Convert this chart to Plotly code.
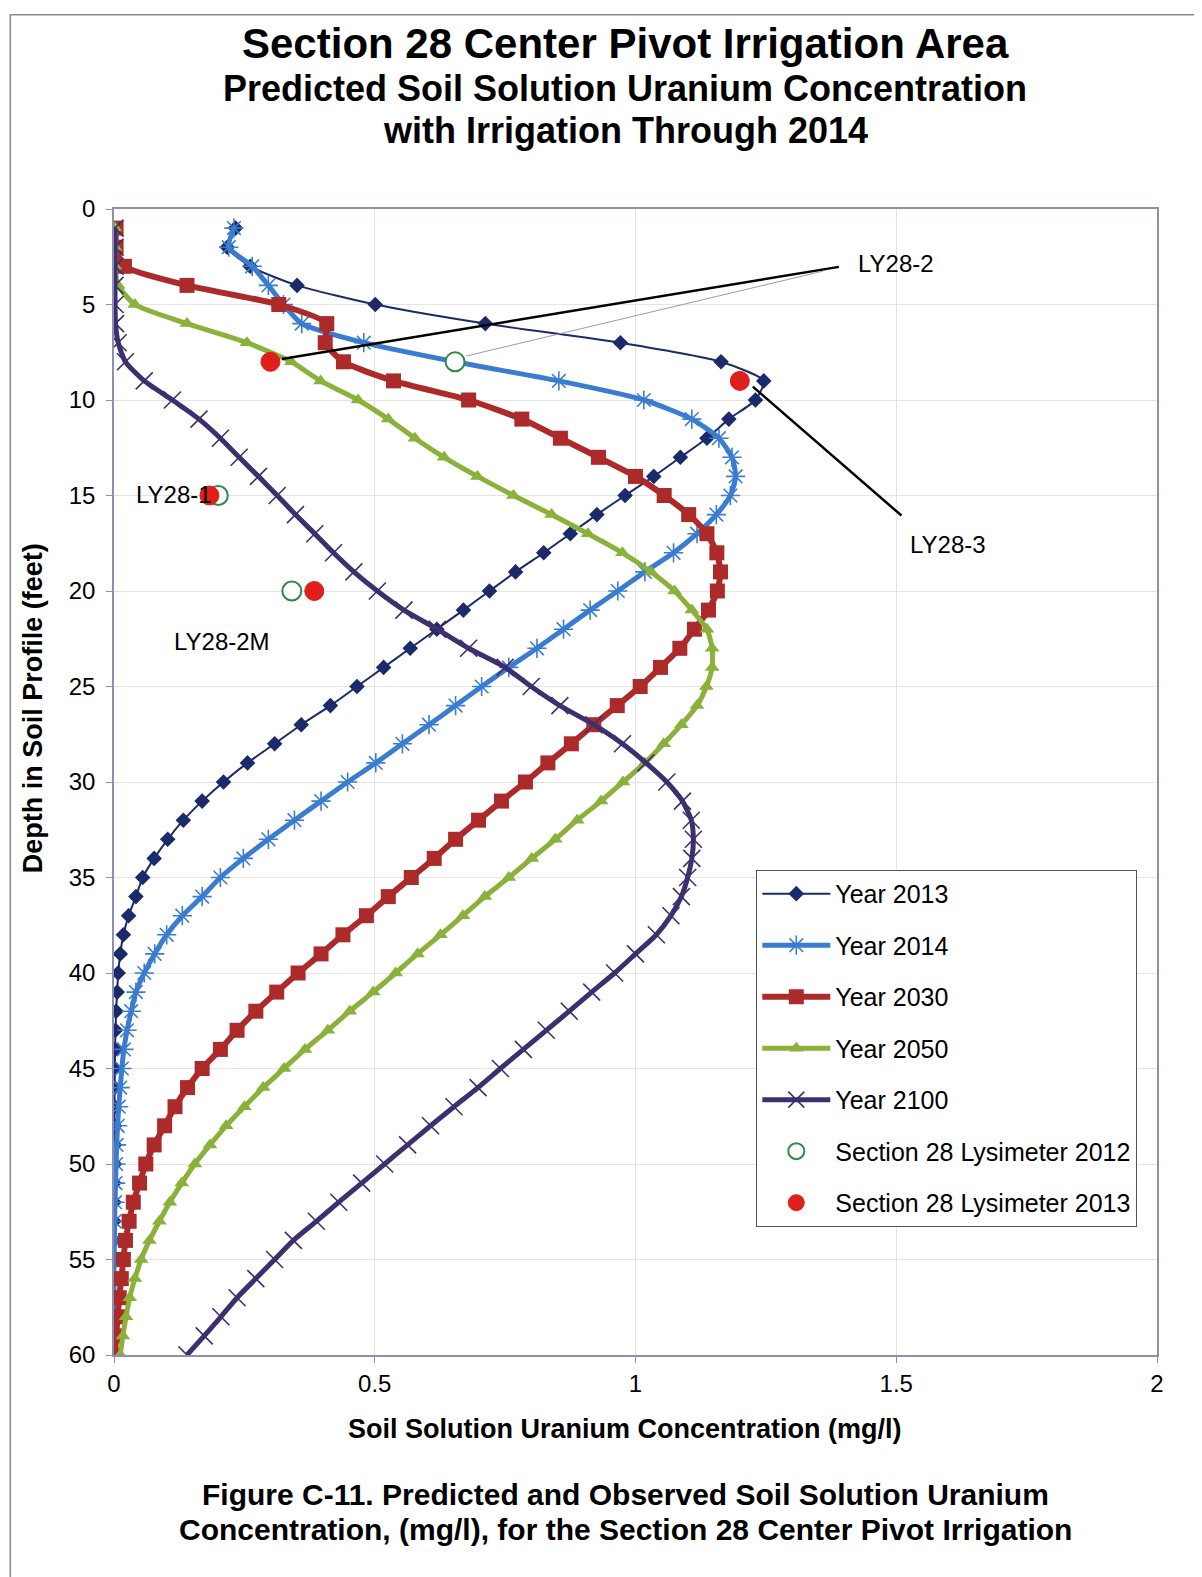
import plotly.graph_objects as go

depth = list(range(1, 61))

year_2013 = [0.233, 0.217, 0.261, 0.351, 0.501, 0.712, 0.971, 1.164, 1.246, 1.23,
             1.179, 1.137, 1.086, 1.035, 0.98, 0.926, 0.875, 0.824, 0.77, 0.72,
             0.67, 0.619, 0.568, 0.517, 0.466, 0.415, 0.359, 0.308, 0.256, 0.21,
             0.169, 0.133, 0.103, 0.077, 0.055, 0.042, 0.028, 0.018, 0.012, 0.008,
             0.006, 0.004, 0.003, 0.002, 0.002, 0.001, 0.001, 0.001, 0.001, 0.001,
             0, 0, 0, 0, 0, 0, 0, 0, 0, 0]
year_2014 = [0.23, 0.22, 0.265, 0.296, 0.325, 0.36, 0.479, 0.654, 0.853, 1.016,
             1.108, 1.16, 1.185, 1.192, 1.182, 1.155, 1.118, 1.073, 1.018, 0.966,
             0.913, 0.862, 0.811, 0.757, 0.705, 0.655, 0.604, 0.553, 0.502, 0.448,
             0.397, 0.346, 0.296, 0.248, 0.204, 0.169, 0.131, 0.101, 0.078, 0.058,
             0.042, 0.033, 0.025, 0.019, 0.015, 0.012, 0.009, 0.007, 0.005, 0.004,
             0.003, 0.002, 0.001, 0.001, 0, 0, 0, 0, 0, 0]
year_2030 = [0.004, 0.004, 0.02, 0.14, 0.316, 0.408, 0.405, 0.44, 0.536, 0.68,
             0.782, 0.856, 0.929, 1.0, 1.055, 1.102, 1.137, 1.156, 1.163, 1.157,
             1.14, 1.113, 1.085, 1.048, 1.009, 0.965, 0.92, 0.877, 0.832, 0.789,
             0.743, 0.699, 0.655, 0.614, 0.57, 0.526, 0.484, 0.439, 0.397, 0.353,
             0.312, 0.272, 0.236, 0.204, 0.169, 0.141, 0.117, 0.097, 0.077, 0.061,
             0.049, 0.037, 0.029, 0.022, 0.018, 0.014, 0.01, 0.007, 0.004, 0.002]
year_2050 = [0.002, 0.002, 0.002, 0.008, 0.04, 0.14, 0.255, 0.34, 0.396, 0.468,
             0.526, 0.577, 0.633, 0.697, 0.766, 0.839, 0.909, 0.975, 1.03, 1.075,
             1.108, 1.137, 1.147, 1.147, 1.136, 1.118, 1.088, 1.054, 1.018, 0.976,
             0.934, 0.888, 0.846, 0.801, 0.757, 0.711, 0.669, 0.626, 0.582, 0.54,
             0.497, 0.452, 0.41, 0.366, 0.326, 0.286, 0.25, 0.215, 0.184, 0.155,
             0.13, 0.107, 0.087, 0.068, 0.052, 0.04, 0.03, 0.023, 0.017, 0.012]
year_2100 = [0.002, 0.002, 0.002, 0.002, 0.002, 0.003, 0.008, 0.022, 0.058, 0.112,
             0.163, 0.204, 0.24, 0.277, 0.313, 0.348, 0.385, 0.421, 0.46, 0.505,
             0.556, 0.62, 0.68, 0.75, 0.80, 0.855, 0.92, 0.975, 1.02, 1.06,
             1.09, 1.107, 1.111, 1.108, 1.10, 1.088, 1.068, 1.04, 1.0, 0.96,
             0.916, 0.873, 0.829, 0.785, 0.741, 0.698, 0.652, 0.607, 0.563, 0.519,
             0.475, 0.431, 0.388, 0.344, 0.308, 0.272, 0.236, 0.205, 0.173, 0.14]

lys2012_conc = [0.654, 0.20, 0.341]
lys2012_depth = [8, 15, 20]
lys2013_conc = [0.30, 1.20, 0.183, 0.384]
lys2013_depth = [8, 9, 15, 20]

label_text = ["LY28-2", "LY28-3", "LY28-1", "LY28-2M"]
label_x = [1.5, 1.60, 0.115, 0.207]
label_y = [2.83, 17.58, 14.95, 22.65]

x_ticks = [0, 0.5, 1, 1.5, 2]
x_tick_text = ["0", "0.5", "1", "1.5", "2"]
y_ticks = list(range(0, 61, 5))

FONT = "Liberation Sans, Arial, sans-serif"

fig = go.Figure()

series = [
    ("Year 2013", year_2013, "#1b2a6b", 2, "diamond", 12, 0),
    ("Year 2014", year_2014, "#3a7dd0", 5, "asterisk-open", 16, 1.6),
    ("Year 2030", year_2030, "#ad2a2a", 6, "square", 15, 0),
    ("Year 2050", year_2050, "#8ab13a", 5, "triangle-up", 13, 0),
    ("Year 2100", year_2100, "#3e2f6e", 5, "x-thin-open", 17, 1.6),
]
for i, (name, xs, col, lw, sym, ms, mlw) in enumerate(series):
    fig.add_trace(go.Scatter(
        x=xs, y=depth, name=name, mode="lines+markers",
        line=dict(color=col, width=lw, shape="spline", smoothing=0.6),
        marker=dict(symbol=sym, size=ms, color=col,
                    line=dict(color=col, width=mlw)),
        legendgroup=f"g{i}",
    ))

fig.add_trace(go.Scatter(
    x=lys2012_conc, y=lys2012_depth, name="Section 28 Lysimeter 2012",
    mode="markers", legendgroup="g5",
    marker=dict(symbol="circle", size=19, color="white",
                line=dict(color="#2e8b45", width=2)),
))
fig.add_trace(go.Scatter(
    x=lys2013_conc, y=lys2013_depth, name="Section 28 Lysimeter 2013",
    mode="markers", legendgroup="g6",
    marker=dict(symbol="circle", size=19, color="#e01f1a",
                line=dict(color="#e01f1a", width=1)),
))

# leader lines
fig.add_shape(type="line", xref="x", yref="y", x0=0.322, y0=7.85, x1=1.39, y1=3.03,
              line=dict(color="black", width=2.5))
fig.add_shape(type="line", xref="x", yref="y", x0=0.675, y0=7.7, x1=1.36, y1=3.25,
              line=dict(color="#9a9ab8", width=1))
fig.add_shape(type="line", xref="x", yref="y", x0=1.225, y0=9.3, x1=1.51, y1=16.05,
              line=dict(color="black", width=2.5))

for t, lx, ly in zip(label_text, label_x, label_y):
    fig.add_annotation(x=lx, y=ly, xref="x", yref="y", text=t, showarrow=False,
                       font=dict(family=FONT, size=24, color="black"))

# page body margin offset (browser default 8px)
OFF = 8
W, H = 1202 - OFF, 1577 - OFF
L, R, T, B = 113.7 - OFF, 1156.7 - OFF, 209.2 - OFF, 1355.0 - OFF


def px_to_paper(px, py):
    px -= OFF
    py -= OFF
    return (px - L) / (R - L), (B - py) / (B - T)


titles = [
    ("<b>Section 28 Center Pivot Irrigation Area</b>", 42, 44),
    ("<b>Predicted Soil Solution Uranium Concentration</b>", 36, 89),
    ("<b>with Irrigation Through 2014</b>", 36, 131),
    ("<b>Soil Solution Uranium Concentration (mg/l)</b>", 27, 1429),
    ("<b>Figure C-11. Predicted and Observed Soil Solution Uranium</b>", 30, 1494),
    ("<b>Concentration, (mg/l), for the Section 28 Center Pivot Irrigation</b>", 30, 1529),
]
for text, size, py in titles:
    xp, yp = px_to_paper(625, py)
    fig.add_annotation(x=xp, y=yp, xref="paper", yref="paper", text=text,
                       showarrow=False, xanchor="center", yanchor="middle",
                       font=dict(family=FONT, size=size, color="black"))

xp, yp = px_to_paper(33, 708)
fig.add_annotation(x=xp, y=yp, xref="paper", yref="paper",
                   text="<b>Depth in Soil Profile (feet)</b>", textangle=-90,
                   showarrow=False, xanchor="center", yanchor="middle",
                   font=dict(family=FONT, size=27, color="black"))

# outer frame
fx0, fy0 = px_to_paper(10, 15)
fx1, fy1 = px_to_paper(1240, 1620)
fig.add_shape(type="rect", xref="paper", yref="paper", x0=fx0, y0=fy0, x1=fx1, y1=fy1,
              line=dict(color="#8a8a8a", width=1.5), fillcolor="rgba(0,0,0,0)", layer="below")

lx, ly = px_to_paper(756, 870)
fig.update_layout(
    width=W, height=H,
    margin=dict(l=L, r=W - R, t=T, b=H - B, autoexpand=False),
    paper_bgcolor="white", plot_bgcolor="white",
    font=dict(family=FONT, color="black"),
    showlegend=True,
    legend=dict(x=lx, y=ly, xanchor="left", yanchor="top",
                bordercolor="#555555", borderwidth=1, bgcolor="white",
                font=dict(family=FONT, size=25, color="black"),
                tracegroupgap=16, itemwidth=68),
    xaxis=dict(range=[0, 2], tickvals=x_ticks, ticktext=x_tick_text,
               showgrid=True, gridcolor="#e4e4e4", gridwidth=1,
               showline=True, linecolor="#8c8fae", linewidth=1.5, mirror=True,
               ticks="outside", ticklen=6, tickcolor="#8c8fae",
               tickfont=dict(family=FONT, size=24, color="black"), zeroline=False),
    yaxis=dict(range=[60, 0], tickvals=y_ticks,
               showgrid=True, gridcolor="#e4e4e4", gridwidth=1,
               showline=True, linecolor="#8c8fae", linewidth=1.5, mirror=True,
               ticks="outside", ticklen=6, tickcolor="#8c8fae", ticklabelstandoff=6,
               tickfont=dict(family=FONT, size=24, color="black"), zeroline=False),
)

fig.write_html("out.html")
